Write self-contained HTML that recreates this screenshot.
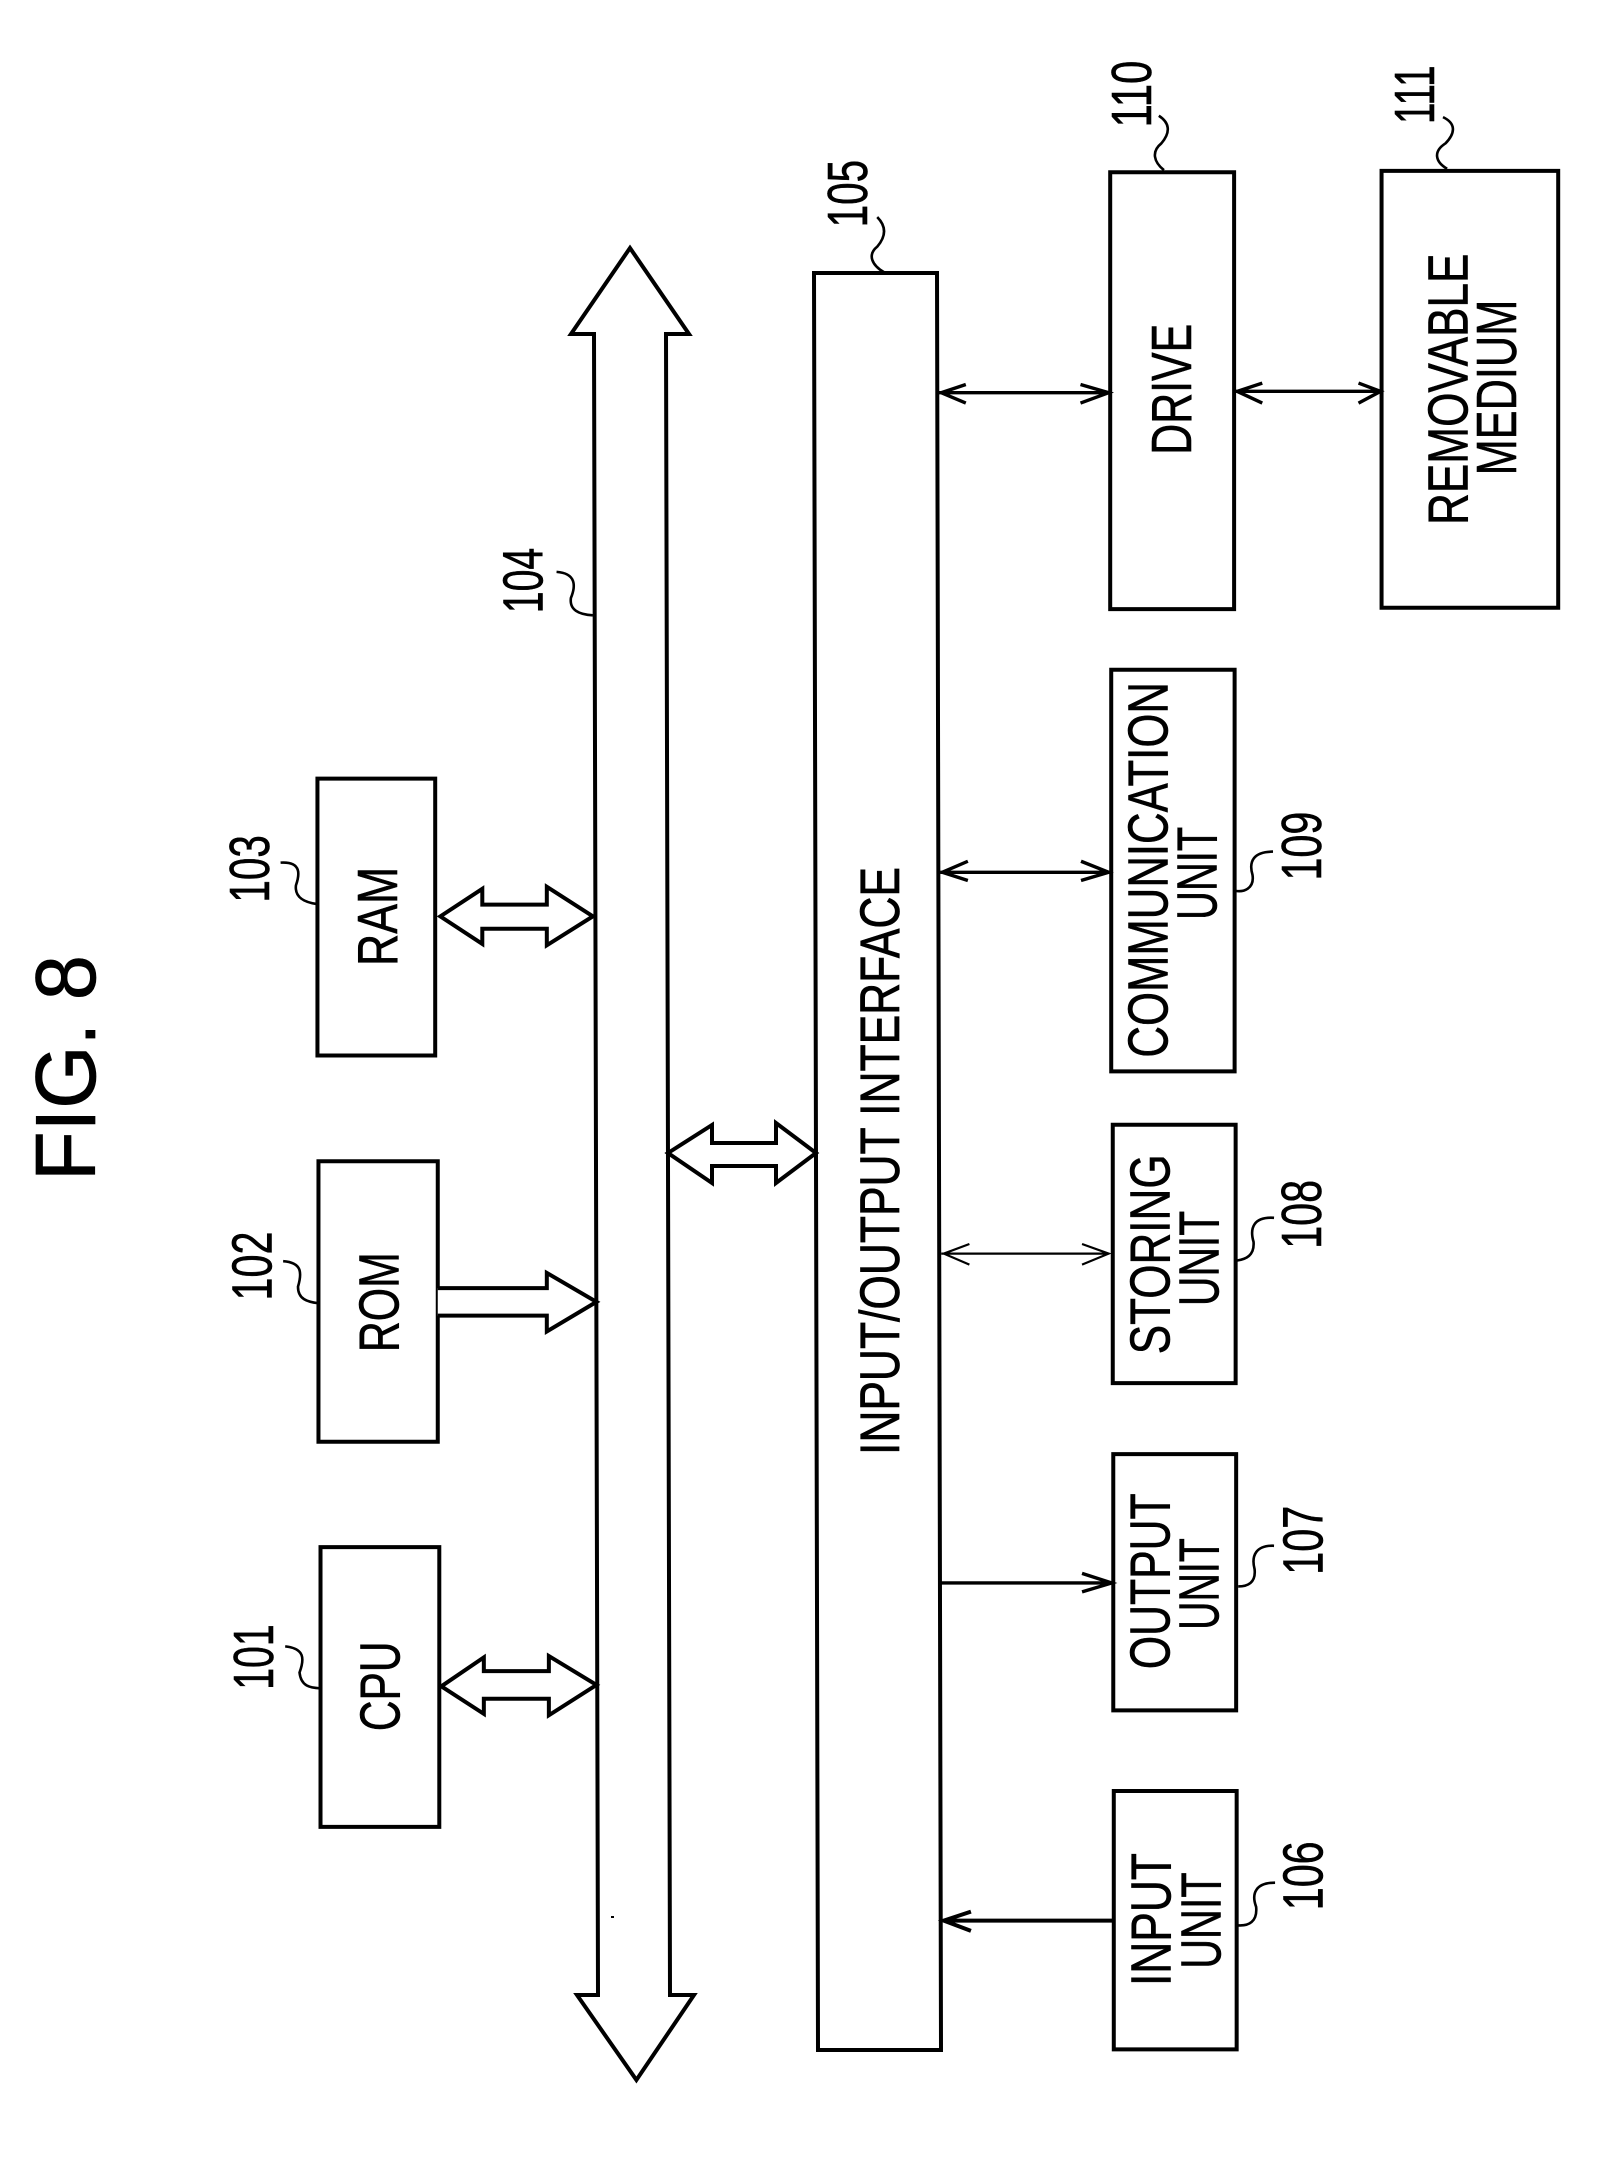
<!DOCTYPE html>
<html><head><meta charset="utf-8"><style>
html,body{margin:0;padding:0;background:#fff}
svg{display:block}
text{font-family:"Liberation Sans",sans-serif;font-size:111px;fill:#000;stroke:#000;stroke-width:.7;vector-effect:non-scaling-stroke}
.s,.s *{fill:#fff;stroke:#000;stroke-width:4;vector-effect:non-scaling-stroke;stroke-linejoin:miter}
.l,.l *{fill:none;stroke:#000;stroke-width:2.6;vector-effect:non-scaling-stroke}
.a,.a *{fill:none;stroke:#000;stroke-width:3.4;vector-effect:non-scaling-stroke}
</style></head><body>
<svg xmlns="http://www.w3.org/2000/svg" width="1606" height="2161" viewBox="0 0 1606 2161">
<rect width="1606" height="2161" fill="#fff"/>
<polygon class="s" points="630,248 689,334 666,334 670,1995 694,1995 636.4,2080 577,1995 598,1995 594,334 571,334"/>
<polygon class="s" points="814,273 937,273 941,2050 818,2050"/>
<polygon class="s" points="668,1153 712,1125 712,1143 776,1143 776,1123 816,1153 776,1183 776,1166 712,1166 712,1183"/>
<text transform="translate(899,1455) rotate(-90)" textLength="588" lengthAdjust="spacingAndGlyphs" style="font-size:56px">INPUT/OUTPUT INTERFACE</text>
<text transform="translate(95,1181) rotate(-90)" textLength="226" lengthAdjust="spacingAndGlyphs" style="font-size:85px">FIG. 8</text>
<rect x="611" y="1916" width="3" height="2" fill="#000"/>

<g transform="scale(.512,.689)">
<rect class="s" x="620" y="1130" width="230" height="402"/>
<text transform="translate(775,1402) rotate(-90)" textLength="144" lengthAdjust="spacingAndGlyphs">RAM</text>
<text transform="translate(525,1310) rotate(-90)" textLength="98" lengthAdjust="spacingAndGlyphs">103</text>
<path class="l" d="M548 1252C590 1250 585 1270 578 1285C575 1305 600 1310 618 1312"/>
<polygon class="s" points="860,1330 942,1290 942,1313 1068,1313 1068,1287 1158,1330 1068,1372 1068,1348 942,1348 942,1370"/>
<text transform="translate(1060,890) rotate(-90)" textLength="95" lengthAdjust="spacingAndGlyphs">104</text>
<path class="l" d="M1087 830C1125 832 1125 850 1115 868C1112 885 1130 892 1158 893"/>
</g>

<g transform="translate(0,1080) scale(.512,.689)">
<rect class="s" x="622" y="118" width="233" height="407"/>
<text transform="translate(778,395) rotate(-90)" textLength="145" lengthAdjust="spacingAndGlyphs">ROM</text>
<text transform="translate(530,320) rotate(-90)" textLength="100" lengthAdjust="spacingAndGlyphs">102</text>
<path class="l" d="M553 263C590 265 590 280 582 300C582 318 600 322 622 324"/>
<polyline class="s" points="855,302 1068,302 1068,280 1165,322 1068,365 1068,342 855,342"/>
<rect class="s" x="626" y="678" width="232" height="406"/>
<text transform="translate(780,945) rotate(-90)" textLength="130" lengthAdjust="spacingAndGlyphs">CPU</text>
<text transform="translate(533,885) rotate(-90)" textLength="95" lengthAdjust="spacingAndGlyphs">101</text>
<path class="l" d="M557 822C595 825 595 840 585 860C588 880 605 882 626 883"/>
<polygon class="s" points="862,880 945,838 945,858 1072,858 1072,836 1165,878 1072,922 1072,898 945,898 945,920"/>
</g>

<g transform="translate(803,0) scale(.512,.689)">
<text transform="translate(125,330) rotate(-90)" textLength="98" lengthAdjust="spacingAndGlyphs">105</text>
<path class="l" d="M145 315C165 330 160 345 145 358C125 370 135 385 158 395"/>
<rect class="s" x="600" y="250" width="242" height="634"/>
<text transform="translate(758,660) rotate(-90)" textLength="190" lengthAdjust="spacingAndGlyphs">DRIVE</text>
<text transform="translate(680,185) rotate(-90)" textLength="97" lengthAdjust="spacingAndGlyphs">110</text>
<path class="l" d="M695 168C720 180 715 195 700 208C680 220 685 235 705 247"/>
<rect class="s" x="1130" y="248" width="345" height="634"/>
<text transform="translate(1298,762) rotate(-90)" textLength="394" lengthAdjust="spacingAndGlyphs">REMOVABLE</text>
<text transform="translate(1393,690) rotate(-90)" textLength="255" lengthAdjust="spacingAndGlyphs">MEDIUM</text>
<text transform="translate(1232,180) rotate(-90)" textLength="85" lengthAdjust="spacingAndGlyphs">111</text>
<path class="l" d="M1250 170C1278 180 1272 195 1255 208C1230 220 1235 235 1258 245"/>
<rect class="s" x="602" y="972" width="241" height="583"/>
<text transform="translate(712,1535) rotate(-90)" textLength="545" lengthAdjust="spacingAndGlyphs">COMMUNICATION</text>
<text transform="translate(808,1335) rotate(-90)" textLength="135" lengthAdjust="spacingAndGlyphs">UNIT</text>
<text transform="translate(1012,1278) rotate(-90)" textLength="100" lengthAdjust="spacingAndGlyphs">109</text>
<path class="l" d="M918 1236C880 1236 870 1250 878 1270C882 1290 860 1295 845 1293"/>
<g class="a">
<path d="M265 570H598M318 558L270 570L318 585M542 558L597 570L542 585"/>
<path d="M845 568H1130M897 556L848 568L897 585M1085 556L1128 568L1085 585"/>
<path d="M268 1266H600M322 1250L272 1266L322 1278M543 1250L597 1266L543 1278"/>
</g>
</g>

<g transform="translate(803,1080) scale(.512,.689)">
<rect class="s" x="605" y="65" width="240" height="375"/>
<text transform="translate(716,398) rotate(-90)" textLength="290" lengthAdjust="spacingAndGlyphs">STORING</text>
<text transform="translate(812,328) rotate(-90)" textLength="138" lengthAdjust="spacingAndGlyphs">UNIT</text>
<text transform="translate(1012,245) rotate(-90)" textLength="100" lengthAdjust="spacingAndGlyphs">108</text>
<path class="l" d="M920 200C880 198 872 215 880 235C882 255 865 260 848 262"/>
<path d="M270 252H598M325 238L275 252L325 268M545 238L597 252L545 268" fill="none" stroke="#000" stroke-width="2.2" vector-effect="non-scaling-stroke"/>
<rect class="s" x="606" y="543" width="240" height="372"/>
<text transform="translate(716,855) rotate(-90)" textLength="255" lengthAdjust="spacingAndGlyphs">OUTPUT</text>
<text transform="translate(812,798) rotate(-90)" textLength="133" lengthAdjust="spacingAndGlyphs">UNIT</text>
<text transform="translate(1015,718) rotate(-90)" textLength="100" lengthAdjust="spacingAndGlyphs">107</text>
<path class="l" d="M920 676C885 675 875 690 882 710C885 730 868 735 850 735"/>
<path class="a" d="M270 730H605M545 716L603 730L545 743"/>
<rect class="s" x="607" y="1032" width="240" height="375"/>
<text transform="translate(718,1315) rotate(-90)" textLength="193" lengthAdjust="spacingAndGlyphs">INPUT</text>
<text transform="translate(815,1290) rotate(-90)" textLength="140" lengthAdjust="spacingAndGlyphs">UNIT</text>
<text transform="translate(1015,1205) rotate(-90)" textLength="100" lengthAdjust="spacingAndGlyphs">106</text>
<path class="l" d="M922 1165C885 1165 875 1180 885 1200C888 1222 870 1228 850 1227"/>
<path d="M605 1220H275M328 1207L275 1220L328 1235" fill="none" stroke="#000" stroke-width="4" vector-effect="non-scaling-stroke"/>
</g>
</svg>
</body></html>
